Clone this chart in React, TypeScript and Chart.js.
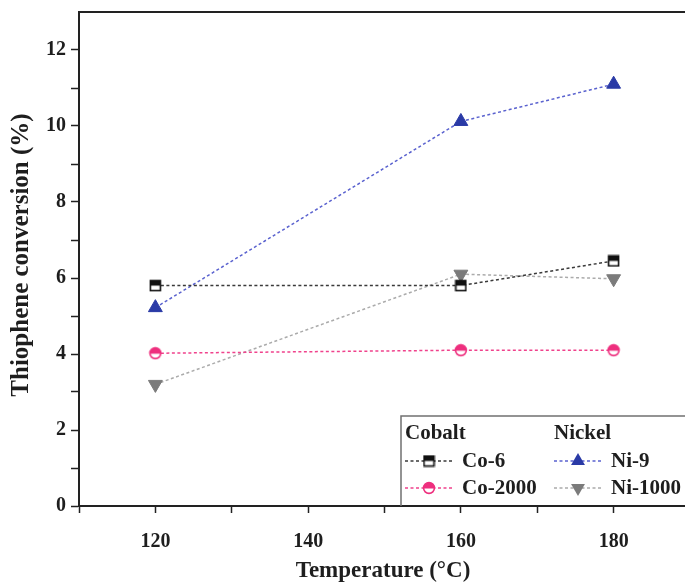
import React, { useEffect, useRef } from 'react';
import { Chart, registerables } from 'chart.js';

Chart.register(...registerables);

// ---- data ----
const temperatures = [120, 160, 180];
const co6 = [5.8, 5.8, 6.45];
const co2000 = [4.02, 4.1, 4.1];
const ni9 = [5.22, 10.12, 11.1];
const ni1000 = [3.2, 6.1, 5.98];
const seriesLabels = ['Co-6', 'Co-2000', 'Ni-9', 'Ni-1000'];
const groupLabels = ['Cobalt', 'Nickel'];
const xTickLabels = [120, 140, 160, 180];
const yTickLabels = [0, 2, 4, 6, 8, 10, 12];
const xTitle = 'Temperature (°C)';
const yTitle = 'Thiophene conversion (%)';

const FONT = '"Liberation Serif", "Times New Roman", serif';
const INK = '#1e1e1e';

function halfSquare(color: string) {
  const c = document.createElement('canvas');
  c.width = 13;
  c.height = 13;
  const g = c.getContext('2d')!;
  g.fillStyle = '#fff';
  g.fillRect(1.5, 1.5, 10, 10);
  g.fillStyle = color;
  g.fillRect(1.5, 1.5, 10, 5);
  g.lineWidth = 1.6;
  g.strokeStyle = color;
  g.strokeRect(1.5, 1.5, 10, 10);
  return c;
}

function halfCircle(color: string) {
  const c = document.createElement('canvas');
  c.width = 14;
  c.height = 14;
  const g = c.getContext('2d')!;
  g.beginPath();
  g.arc(7, 7, 5.4, 0, Math.PI * 2);
  g.fillStyle = '#fff';
  g.fill();
  g.beginPath();
  g.moveTo(1.6, 7.6);
  g.arc(7, 7, 5.4, Math.PI + 0.11, Math.PI * 2 - 0.11);
  g.lineTo(12.4, 7.6);
  g.closePath();
  g.fillStyle = color;
  g.fill();
  g.beginPath();
  g.arc(7, 7, 5.4, 0, Math.PI * 2);
  g.lineWidth = 1.6;
  g.strokeStyle = color;
  g.stroke();
  return c;
}

export default function App() {
  const ref = useRef<HTMLCanvasElement | null>(null);

  useEffect(() => {
    if (!ref.current) return;
    const sq = halfSquare('#111111');
    const ci = halfCircle('#ee2f7e');

    const mk = (ys: number[]) => temperatures.map((t, i) => ({ x: t, y: ys[i] }));

    const datasets: any[] = [
      {
        label: seriesLabels[0],
        data: mk(co6),
        borderColor: '#3a3a3a',
        borderWidth: 1.5,
        borderDash: [3, 2.5],
        pointStyle: sq,
        pointRadius: 6,
        fill: false,
      },
      {
        label: seriesLabels[1],
        data: mk(co2000),
        borderColor: '#f0428c',
        borderWidth: 1.5,
        borderDash: [3, 2.5],
        pointStyle: ci,
        pointRadius: 6,
        fill: false,
      },
      {
        label: seriesLabels[2],
        data: mk(ni9),
        borderColor: '#5a62cf',
        borderWidth: 1.5,
        borderDash: [3, 2.5],
        pointStyle: 'triangle',
        pointRadius: 8,
        pointBackgroundColor: '#2a3aa6',
        pointBorderColor: '#2a3aa6',
        pointBorderWidth: 1,
        fill: false,
      },
      {
        label: seriesLabels[3],
        data: mk(ni1000),
        borderColor: '#ababab',
        borderWidth: 1.5,
        borderDash: [3, 2.5],
        pointStyle: 'triangle',
        pointRotation: 180,
        pointRadius: 8,
        pointBackgroundColor: '#7b7b7b',
        pointBorderColor: '#7b7b7b',
        pointBorderWidth: 1,
        fill: false,
      },
    ];

    const drawMarker = (ctx: CanvasRenderingContext2D, ds: any, x: number, y: number) => {
      if (typeof ds.pointStyle !== 'string') {
        const img = ds.pointStyle as HTMLCanvasElement;
        ctx.drawImage(img, x - img.width / 2, y - img.height / 2);
      } else {
        const r = ds.pointRadius;
        const rot = ds.pointRotation ? Math.PI : 0;
        ctx.save();
        ctx.translate(x, y);
        ctx.rotate(rot);
        ctx.beginPath();
        for (let k = 0; k < 3; k++) {
          const a = -Math.PI / 2 + (k * 2 * Math.PI) / 3;
          const px = Math.cos(a) * r;
          const py = Math.sin(a) * r;
          if (k === 0) ctx.moveTo(px, py);
          else ctx.lineTo(px, py);
        }
        ctx.closePath();
        ctx.fillStyle = ds.pointBackgroundColor;
        ctx.fill();
        ctx.restore();
      }
    };

    const decor = {
      id: 'decor',
      afterDraw(chart: any) {
        const ctx: CanvasRenderingContext2D = chart.ctx;
        const a = chart.chartArea;
        ctx.save();
        // top frame line
        ctx.strokeStyle = '#222';
        ctx.lineWidth = 2;
        ctx.beginPath();
        ctx.moveTo(a.left - 1, a.top);
        ctx.lineTo(chart.width, a.top);
        ctx.stroke();

        // axis titles
        ctx.fillStyle = INK;
        ctx.font = `bold 23px ${FONT}`;
        ctx.textAlign = 'center';
        ctx.textBaseline = 'middle';
        ctx.fillText(xTitle, 383, 571);
        ctx.save();
        ctx.font = `bold 25px ${FONT}`;
        ctx.translate(22, 255);
        ctx.rotate(-Math.PI / 2);
        ctx.fillText(yTitle, 0, 0);
        ctx.restore();

        // legend box (top + left border only; bottom is the axis)
        const bx = 401;
        const by = 416;
        ctx.fillStyle = '#fff';
        ctx.fillRect(bx, by, chart.width - bx, a.bottom - by - 1);
        ctx.strokeStyle = '#707070';
        ctx.lineWidth = 1.5;
        ctx.beginPath();
        ctx.moveTo(bx, a.bottom);
        ctx.lineTo(bx, by);
        ctx.lineTo(chart.width, by);
        ctx.stroke();

        ctx.font = `bold 21px ${FONT}`;
        ctx.textAlign = 'left';
        ctx.textBaseline = 'middle';
        ctx.fillStyle = INK;
        const colX = [405, 554];
        ctx.fillText(groupLabels[0], colX[0], 434);
        ctx.fillText(groupLabels[1], colX[1], 434);
        const rowY = [461, 488];
        datasets.forEach((ds, i) => {
          const col = Math.floor(i / 2);
          const row = i % 2;
          const x0 = colX[col];
          const y = rowY[row];
          ctx.save();
          ctx.strokeStyle = ds.borderColor;
          ctx.lineWidth = 1.5;
          ctx.setLineDash([3, 2.5]);
          ctx.beginPath();
          ctx.moveTo(x0, y);
          ctx.lineTo(x0 + 48, y);
          ctx.stroke();
          ctx.restore();
          drawMarker(ctx, ds, x0 + 24, y);
          ctx.fillStyle = INK;
          ctx.fillText(ds.label, x0 + 57, y + 1);
        });
        ctx.restore();
      },
    };

    const tickFont = { family: FONT, size: 20, weight: 'bold' as const };

    const chart = new Chart(ref.current, {
      type: 'line',
      data: { datasets },
      options: {
        animation: false,
        responsive: false,
        devicePixelRatio: 1,
        layout: { padding: { top: 12, right: 10, left: 0, bottom: 0 } },
        plugins: { legend: { display: false }, tooltip: { enabled: false } },
        scales: {
          x: {
            type: 'linear',
            min: 110,
            max: 190,
            ticks: {
              stepSize: 10,
              autoSkip: false,
              maxRotation: 0,
              padding: 17,
              color: INK,
              font: tickFont,
              callback: (v: any) => (xTickLabels.includes(Number(v)) ? String(v) : ''),
            },
            grid: {
              drawOnChartArea: false,
              drawTicks: true,
              tickLength: 7,
              tickWidth: 1.5,
              tickColor: '#222',
            },
            border: { display: true, color: '#222', width: 2 },
            afterFit: (s: any) => {
              s.height = 76;
              s.paddingLeft = 0;
              s.paddingRight = 0;
            },
          },
          y: {
            type: 'linear',
            min: 0,
            max: 13,
            ticks: {
              stepSize: 1,
              autoSkip: false,
              padding: 5,
              color: INK,
              font: tickFont,
              callback: (v: any) => (yTickLabels.includes(Number(v)) ? String(v) : ''),
            },
            grid: {
              drawOnChartArea: false,
              drawTicks: true,
              tickLength: 8,
              tickWidth: 1.5,
              tickColor: (c: any) => (c.tick && c.tick.value === 13 ? 'rgba(0,0,0,0)' : '#222'),
            },
            border: { display: true, color: '#222', width: 2 },
            afterFit: (s: any) => {
              s.width = 79;
              s.paddingTop = 0;
              s.paddingBottom = 0;
            },
          },
        },
      },
      plugins: [decor],
    });
    return () => chart.destroy();
  }, []);

  return (
    <div
      style={{
        position: 'absolute',
        left: 0,
        top: 0,
        width: 685,
        height: 582,
        overflow: 'hidden',
        background: '#fff',
      }}
    >
      <canvas ref={ref} width={700} height={582} style={{ display: 'block' }} />
    </div>
  );
}
